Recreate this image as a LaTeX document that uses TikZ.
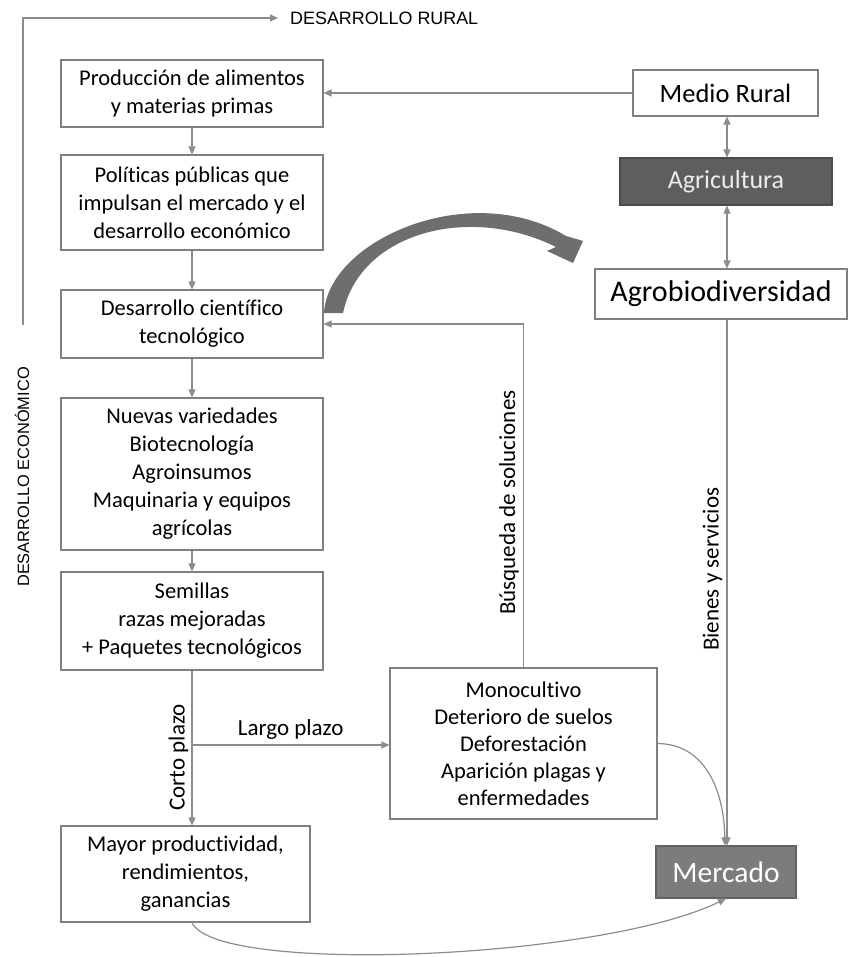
\documentclass[tikz,border=0pt]{standalone}
\usepackage{fontspec}
\setmainfont{Carlito}[Ligatures=CommonOff]
\newfontfamily\arialf{Liberation Sans}
\usetikzlibrary{arrows.meta}
\definecolor{lgray}{HTML}{8C8C8C}
\definecolor{bgray}{HTML}{808080}
\definecolor{agrifill}{HTML}{5E5E5E}
\definecolor{mercfill}{HTML}{7C7C7C}
\definecolor{bigarrow}{HTML}{6E6E6E}
\begin{document}
\begin{tikzpicture}[x=1pt,y=-1pt,
  box/.style={draw=bgray,line width=1.1pt,fill=white,align=center,inner sep=0pt,
    font=\fontsize{22.5}{28}\selectfont},
  conn/.style={draw=lgray,line width=1.2pt,-{Triangle[length=8pt,width=7pt]}},
  dconn/.style={draw=lgray,line width=1.2pt,{Triangle[length=8pt,width=7pt]}-{Triangle[length=8pt,width=7pt]}},
  lab/.style={font=\fontsize{23}{26}\selectfont,inner sep=0pt},
  sidelab/.style={font=\arialf\fontsize{16.4}{19}\selectfont,inner sep=0pt}]
\useasboundingbox (0,0) rectangle (848,957);
% left column
\node[box,minimum width=262pt,minimum height=67pt] (b1) at (192,93.5) {Producción de alimentos\\y materias primas};
\node[box,minimum width=262pt,minimum height=95pt] (b2) at (192,202.5) {Políticas públicas que\\impulsan el mercado y el\\desarrollo económico};
\node[box,minimum width=262pt,minimum height=68pt] (b3) at (192,324) {Desarrollo científico\\tecnológico};
\node[box,minimum width=262pt,minimum height=152pt] (b4) at (192,474) {Nuevas variedades\\Biotecnología\\Agroinsumos\\Maquinaria y equipos\\agrícolas};
\node[box,minimum width=262pt,minimum height=98pt] (b5) at (192,621) {Semillas\\razas mejoradas\\+ Paquetes tecnológicos};
\node[box,minimum width=249pt,minimum height=96pt] (b6) at (185.5,874) {Mayor productividad,\\rendimientos,\\ganancias};
\node[box,minimum width=267pt,minimum height=151pt,font=\fontsize{22.5}{27}\selectfont] (mono) at (523.5,743.5) {Monocultivo\\Deterioro de suelos\\Deforestación\\Aparición plagas y\\enfermedades};
% right column
\node[box,minimum width=185pt,minimum height=46pt,font=\fontsize{26.5}{30}\selectfont] (mr) at (725.5,93) {Medio Rural};
\node[box,draw=agrifill!80!black,fill=agrifill,text=white!85!gray,minimum width=212pt,minimum height=47pt,font=\fontsize{26}{30}\selectfont] (agri) at (726,181.5) {Agricultura};
\node[box,minimum width=252pt,minimum height=50pt,font=\fontsize{30}{34}\selectfont] (agro) at (721,294) {Agrobiodiversidad};
\node[box,draw=mercfill!80!black,fill=mercfill,text=white,minimum width=140pt,minimum height=52pt,font=\fontsize{29.5}{33}\selectfont] (merc) at (726,872) {Mercado};
% side texts
\coordinate (lstart) at (23,325);
\coordinate (rtip) at (278,18);
\node[sidelab,anchor=west,font=\arialf\fontsize{17.9}{20}\selectfont] (dr) at (290,18) {DESARROLLO RURAL};
\node[sidelab,rotate=90] (de) at (22,477) {DESARROLLO ECONÓMICO};
\draw[conn] (lstart) |- (rtip);
% connectors
\draw[conn] (mr.west) -- (b1.east |- mr.west);
\draw[conn] (b1) -- (b2);
\draw[conn] (b2) -- (b3);
\draw[conn] (b3) -- (b4);
\draw[conn] (b4) -- (b5);
\draw[conn] (b5.south) -- (b6.north -| b5.south) node[lab,pos=0.56,rotate=90,anchor=south,yshift=3pt] (cp) {Corto plazo};
\coordinate (split) at (192,745);
\draw[conn] (split) -- (mono.west |- split) node[lab,midway,anchor=south,yshift=5pt] (lp) {Largo plazo};
\draw[conn] (mono.north) |- (b3.east) node[lab,pos=0.24,rotate=90,anchor=south,yshift=4pt] (bs) {Búsqueda de soluciones};
\draw[dconn] (mr.south -| 727,0) -- (agri.north -| 727,0);
\draw[dconn] (agri.south -| 727,0) -- (agro.north -| 727,0);
\draw[conn] (agro.south -| 727,0) -- (merc.north -| 727,0) node[lab,pos=0.475,rotate=90,anchor=south,yshift=4pt] (bys) {Bienes y servicios};
\draw[conn] (mono.east) .. controls (705,744) and (724,790) .. (merc.north -| 725,0);
\draw[conn] (b6.south -| 192,0) .. controls (215,975) and (600,960) .. (merc.south -| 726,0);
% big curved arrow
\fill[bigarrow] (324,313) .. controls (328,240) and (470,178) .. (566,236) -- (583,241) -- (573,263) -- (547,251) -- (556,247) .. controls (470,204) and (360,232) .. (343,313) -- cycle;
\end{tikzpicture}
\end{document}
